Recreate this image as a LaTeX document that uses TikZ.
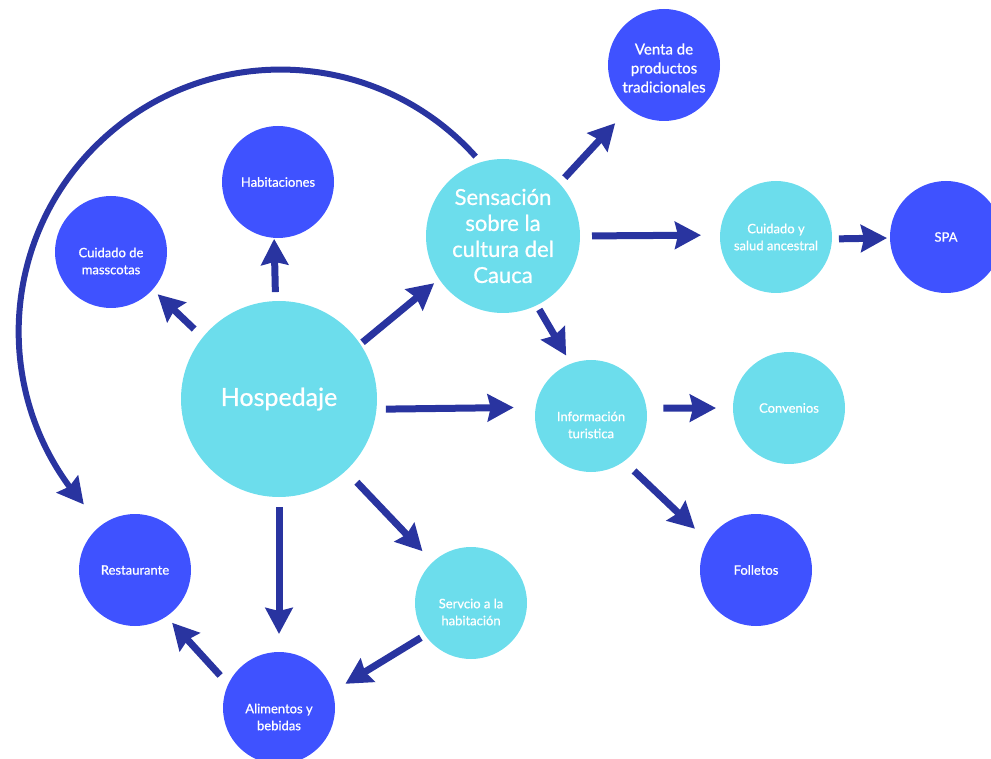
\documentclass[tikz,border=0pt]{standalone}
\usepackage{fontspec}
\setmainfont{Lato}[FakeBold=0.7]
\usetikzlibrary{arrows.meta,bending}
\definecolor{bubbleblue}{RGB}{63,82,255}
\definecolor{bubblecyan}{RGB}{108,221,236}
\definecolor{arrownavy}{RGB}{41,52,160}
\begin{document}
\begin{tikzpicture}[x=1pt,y=-1pt,
  bubble/.style={circle, minimum size=112pt, inner sep=0pt, outer sep=0pt,
    text=white, align=center, font=\fontsize{13}{17}\selectfont},
  deep/.style={bubble, fill=bubbleblue},
  pale/.style={bubble, fill=bubblecyan},
  captxt/.style={text=white, align=center, font=\fontsize{13}{17}\selectfont, inner sep=0pt},
  link/.style={line width=7pt, draw=arrownavy, -{Stealth[length=26pt,width=27pt,inset=3pt]}},
]
\useasboundingbox (0,0) rectangle (991,759);
\clip (0,0) rectangle (991,759);

% central topic
\node[pale, minimum size=196pt, font=\fontsize{25}{30}\selectfont] (hosp) at (279,399) {Hospedaje};
\node[pale, minimum size=154pt, font=\fontsize{22}{26}\selectfont] (sens) at (503,236)
  {Sensación\\sobre la\\cultura del\\Cauca};

% satellites
\node[deep] (hab) at (278,182) {Habitaciones};
\node[deep, label={[captxt, yshift=-9pt]center:{Cuidado de\\masscotas}}] (mas) at (111,252) {};
\node[deep, label={[captxt, font=\fontsize{15}{19}\selectfont, yshift=-3pt]center:{Venta de\\productos\\tradicionales}}] (venta) at (664,65) {};
\node[pale] (cuid) at (776,237) {Cuidado y\\salud ancestral};
\node[deep] (spa) at (946,237) {SPA};
\node[pale, label={[captxt, yshift=-9pt]center:{Información\\turistica}}] (info) at (591,416) {};
\node[pale] (conv) at (789,408) {Convenios};
\node[deep] (foll) at (756,570) {Folletos};
\node[deep] (rest) at (135,570) {Restaurante};
\node[pale, label={[captxt, yshift=-9pt]center:{Servcio a la\\habitación}}] (serv) at (471,603) {};
\node[deep, label={[captxt, yshift=-9pt]center:{Alimentos y\\bebidas}}] (alim) at (279,708) {};

% connectors
\draw[link, shorten <=9pt, shorten >=1pt] (hosp.92.7) -- (hab.266);
\draw[link, shorten <=12pt, shorten >=7pt] (hosp.141.3) -- (mas.318.2);
\draw[link, shorten <=3pt, shorten >=6.5pt] (hosp.34.5) -- (sens.214.3);
\draw[link, shorten <=8pt, shorten >=20pt] (sens.43.1) -- (venta.231.9);
\draw[link, shorten <=12pt, shorten >=19pt] (sens.0.6) -- (cuid.178.5);
\draw[link, shorten <=7pt, shorten >=3pt] (cuid.358.2) -- (spa.181.9);
\draw[link, shorten <=5pt, shorten >=9.5pt] (sens.296.9) -- (info.111.5);
\draw[link, shorten <=9.4pt, shorten >=22pt] (hosp.354.73) -- (info.171.8);
\draw[link, shorten <=17pt, shorten >=17pt] (info.8.2) -- (conv.180);
\draw[link, shorten <=14pt, shorten >=18pt] (info.306.9) -- (foll.149.3);
\draw[link, shorten <=10pt, shorten >=18pt] (hosp.270) -- (alim.90);
\draw[link, shorten <=16pt, shorten >=15pt] (hosp.313.2) -- (serv.133.3);
\draw[link, shorten <=5pt, shorten >=15pt] (serv.215) -- (alim.17.2);
\draw[link, shorten <=12pt, shorten >=8.6pt] (alim.155.7) -- (rest.304.9);

% large loop from the culture topic back to the restaurant
\coordinate (loopstart) at ([shift={(-2.3,-6.6)}]sens.109.5);
\draw[link, line width=6pt] (loopstart) arc[start angle=-41.9, end angle=-221.3, radius=262];
\end{tikzpicture}
\end{document}
